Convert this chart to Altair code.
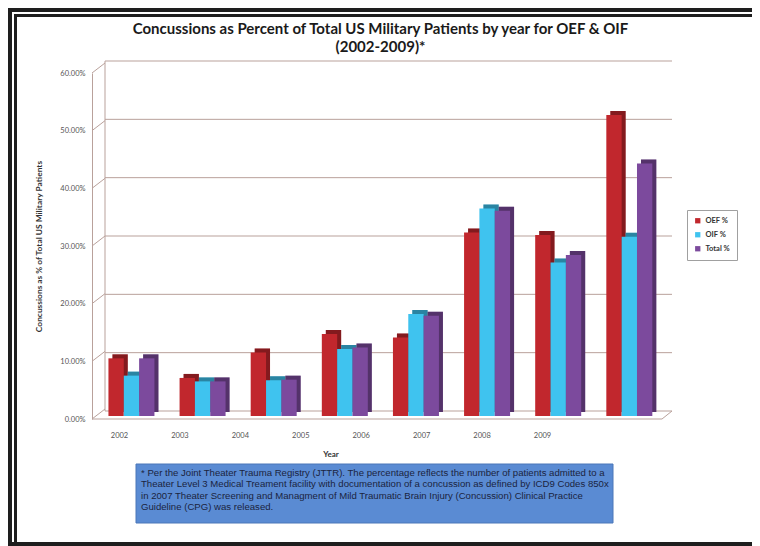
import altair as alt
import pandas as pd

# ---------------- data ----------------
YEARS = ["2002", "2003", "2004", "2005", "2006", "2007", "2008", "2009"]
SERIES = ["OEF %", "OIF %", "Total %"]
OEF = [10.0, 6.6, 11.0, 14.2, 13.6, 31.8, 31.4, 52.2]
OIF = [7.0, 6.0, 6.2, 11.6, 17.7, 36.0, 26.6, 31.1]
TOTAL = [10.0, 6.0, 6.3, 11.9, 17.4, 35.6, 27.9, 43.8]
Y_TICKS = [0, 10, 20, 30, 40, 50, 60]

TITLE_LINES = [
    "Concussions as Percent of Total US Military Patients by year for OEF & OIF",
    "(2002-2009)*",
]
Y_TITLE = "Concussions as % of Total US Military Patients"
X_TITLE = "Year"
FOOTNOTE = [
    "* Per the Joint Theater Trauma Registry (JTTR). The percentage reflects the number of patients admitted to a",
    "Theater Level 3 Medical Treament facility with documentation of a concussion as defined by ICD9 Codes 850x",
    "in 2007 Theater Screening and Managment of Mild Traumatic Brain Injury (Concussion) Clinical Practice",
    "Guideline (CPG) was released.",
]

# ---------------- style ----------------
COLORS = ["#c1272d", "#3fc3ef", "#7c4a9d"]
GRID = "#b9a19b"
FONT = "Lato"
W, H = 567, 350

rows = []
for i, yr in enumerate(YEARS):
    for s, vals in zip(SERIES, [OEF, OIF, TOTAL]):
        rows.append({"Year": yr, "Series": s, "Value": vals[i]})
bars_df = pd.DataFrame(rows)
ticks_df = pd.DataFrame({"v": Y_TICKS})
zero_df = pd.DataFrame({"v": [0]})
years_df = pd.DataFrame({"Year": YEARS})
one_df = pd.DataFrame({"k": [0]})


def front_scale():
    return alt.Scale(domain=[0, 60], range=[358, 12])


def back_scale():
    return alt.Scale(domain=[0, 60], range=[H, 0])


def x_enc():
    return alt.X("Year:N", axis=None,
                 scale=alt.Scale(domain=YEARS, range=[-9, 560], paddingInner=0.35, paddingOuter=0.175))


def color_scale():
    return alt.Scale(domain=SERIES, range=COLORS)


# ---------------- back wall ----------------
grid = alt.Chart(ticks_df).mark_rule(color=GRID, strokeWidth=1).encode(
    x=alt.value(0), x2=alt.value(W),
    y=alt.Y("v:Q", scale=back_scale(), axis=None),
)
backwall = alt.Chart(one_df).mark_rule(color=GRID, strokeWidth=1).encode(
    x=alt.value(0), x2=alt.value(0), y=alt.value(0), y2=alt.value(H)
)

# ---------------- front: axis, floor ----------------
diag = alt.Chart(ticks_df).mark_rule(color=GRID, strokeWidth=1, y2Offset=-10).encode(
    x=alt.value(-13), x2=alt.value(0),
    y=alt.Y(
        "v:Q", scale=front_scale(),
        axis=alt.Axis(
            orient="left", offset=13, values=Y_TICKS,
            labelExpr="format(datum.value, '.2f') + '%'",
            ticks=False, grid=False, domainColor=GRID, domainWidth=1,
            labelFont=FONT, labelFontSize=7.5, labelColor="#555555", labelPadding=7,
            title=Y_TITLE, titleFont=FONT, titleFontSize=8.4, titleFontWeight="bold",
            titleColor="#333333", titlePadding=16,
        ),
    ),
    y2="v:Q",
)
floor_front = alt.Chart(zero_df).mark_rule(color=GRID, strokeWidth=1).encode(
    x=alt.value(-13), x2=alt.value(557),
    y=alt.Y("v:Q", scale=front_scale(), axis=None),
)
floor_right = alt.Chart(zero_df).mark_rule(color=GRID, strokeWidth=1, y2Offset=-8).encode(
    x=alt.value(557), x2=alt.value(567),
    y=alt.Y("v:Q", scale=front_scale(), axis=None), y2="v:Q",
)

# ---------------- bars (front face + darker extruded side) ----------------
side = alt.Chart(bars_df).mark_bar(yOffset=-7, y2Offset=-7).encode(
    x=x_enc(),
    xOffset=alt.XOffset("Series:N", sort=SERIES,
                        scale=alt.Scale(domain=SERIES, range=[4, 50], paddingInner=0)),
    y=alt.Y("Value:Q", scale=front_scale(), axis=None),
    color=alt.Color("Series:N", scale=color_scale(), legend=None),
)
side_dark = alt.Chart(bars_df).mark_bar(yOffset=-7, y2Offset=-7, color="black", opacity=0.32).encode(
    x=x_enc(),
    xOffset=alt.XOffset("Series:N", sort=SERIES,
                        scale=alt.Scale(domain=SERIES, range=[4, 50], paddingInner=0)),
    y=alt.Y("Value:Q", scale=front_scale(), axis=None),
)
front_bars = alt.Chart(bars_df).mark_bar(yOffset=-3, y2Offset=-3).encode(
    x=x_enc(),
    xOffset=alt.XOffset("Series:N", sort=SERIES,
                        scale=alt.Scale(domain=SERIES, range=[0, 46], paddingInner=0)),
    y=alt.Y("Value:Q", scale=front_scale(), axis=None),
    color=alt.Color(
        "Series:N", scale=color_scale(),
        legend=alt.Legend(
            orient="none", legendX=582, legendY=149, title=None,
            strokeColor="#a0a0a0", padding=7, symbolType="square", symbolSize=28,
            symbolStrokeWidth=0, labelFont=FONT, labelFontSize=7.5, labelFontWeight="bold",
            labelColor="#333333", rowPadding=5, fillColor="white",
        ),
    ),
)

# ---------------- x labels ----------------
labels = alt.Chart(years_df).mark_point(opacity=0).encode(
    x=alt.X(
        "Year:O",
        scale=alt.Scale(type="point", domain=YEARS, range=[14, 437], padding=0),
        axis=alt.Axis(
            orient="bottom", title=X_TITLE, ticks=False, domain=False, labelAngle=0,
            labelFont=FONT, labelFontSize=7.5, labelColor="#555555", labelPadding=20,
            titleFont=FONT, titleFontSize=8, titleFontWeight="bold", titleColor="#333333",
            titlePadding=12,
        ),
    )
)

# ---------------- footnote box ----------------
note_box = alt.Chart(one_df).mark_rect(color="#5a8bd3", stroke="#4a76b8", strokeWidth=1).encode(
    x=alt.value(31), x2=alt.value(508), y=alt.value(403), y2=alt.value(462)
)
note_text = alt.Chart(one_df).mark_text(
    text=FOOTNOTE, align="left", baseline="top", font="Liberation Sans",
    fontSize=9.6, lineHeight=11.3, color="#1b2440",
).encode(x=alt.value(36), y=alt.value(407))


# ---------------- frame ----------------
def frame_rect(x0, x1, y0, y1, color="#1e1e1e"):
    return alt.Chart(one_df).mark_rect(color=color).encode(
        x=alt.value(x0), x2=alt.value(x1), y=alt.value(y0), y2=alt.value(y1)
    )


chart = alt.layer(
    grid, backwall, diag, floor_front, floor_right,
    side, side_dark, front_bars, labels, note_box, note_text,
    frame_rect(-98, 647, -54, -49),   # outer top
    frame_rect(-98, -93, -54, 486),   # outer left
    frame_rect(-91, 647, -47, -44),   # inner top
    frame_rect(-91, -88, -47, 486),   # inner left
    frame_rect(-98, 647, 481, 486),   # bottom band
).resolve_scale(
    y="independent", x="independent", xOffset="independent", color="independent"
).properties(
    width=W, height=H,
    autosize=alt.AutoSizeParams(type="none"),
    padding={"left": 97, "top": 53, "right": 80, "bottom": 135},
    title=alt.TitleParams(
        text=TITLE_LINES, font=FONT, fontSize=15, fontWeight="bold", color="#1a1a1a",
        anchor="middle", dx=-8, offset=-48, lineHeight=18,
    ),
    background="white",
).configure_view(stroke=None)

chart.save("out.html", embed_options={"renderer": "svg", "actions": False})
